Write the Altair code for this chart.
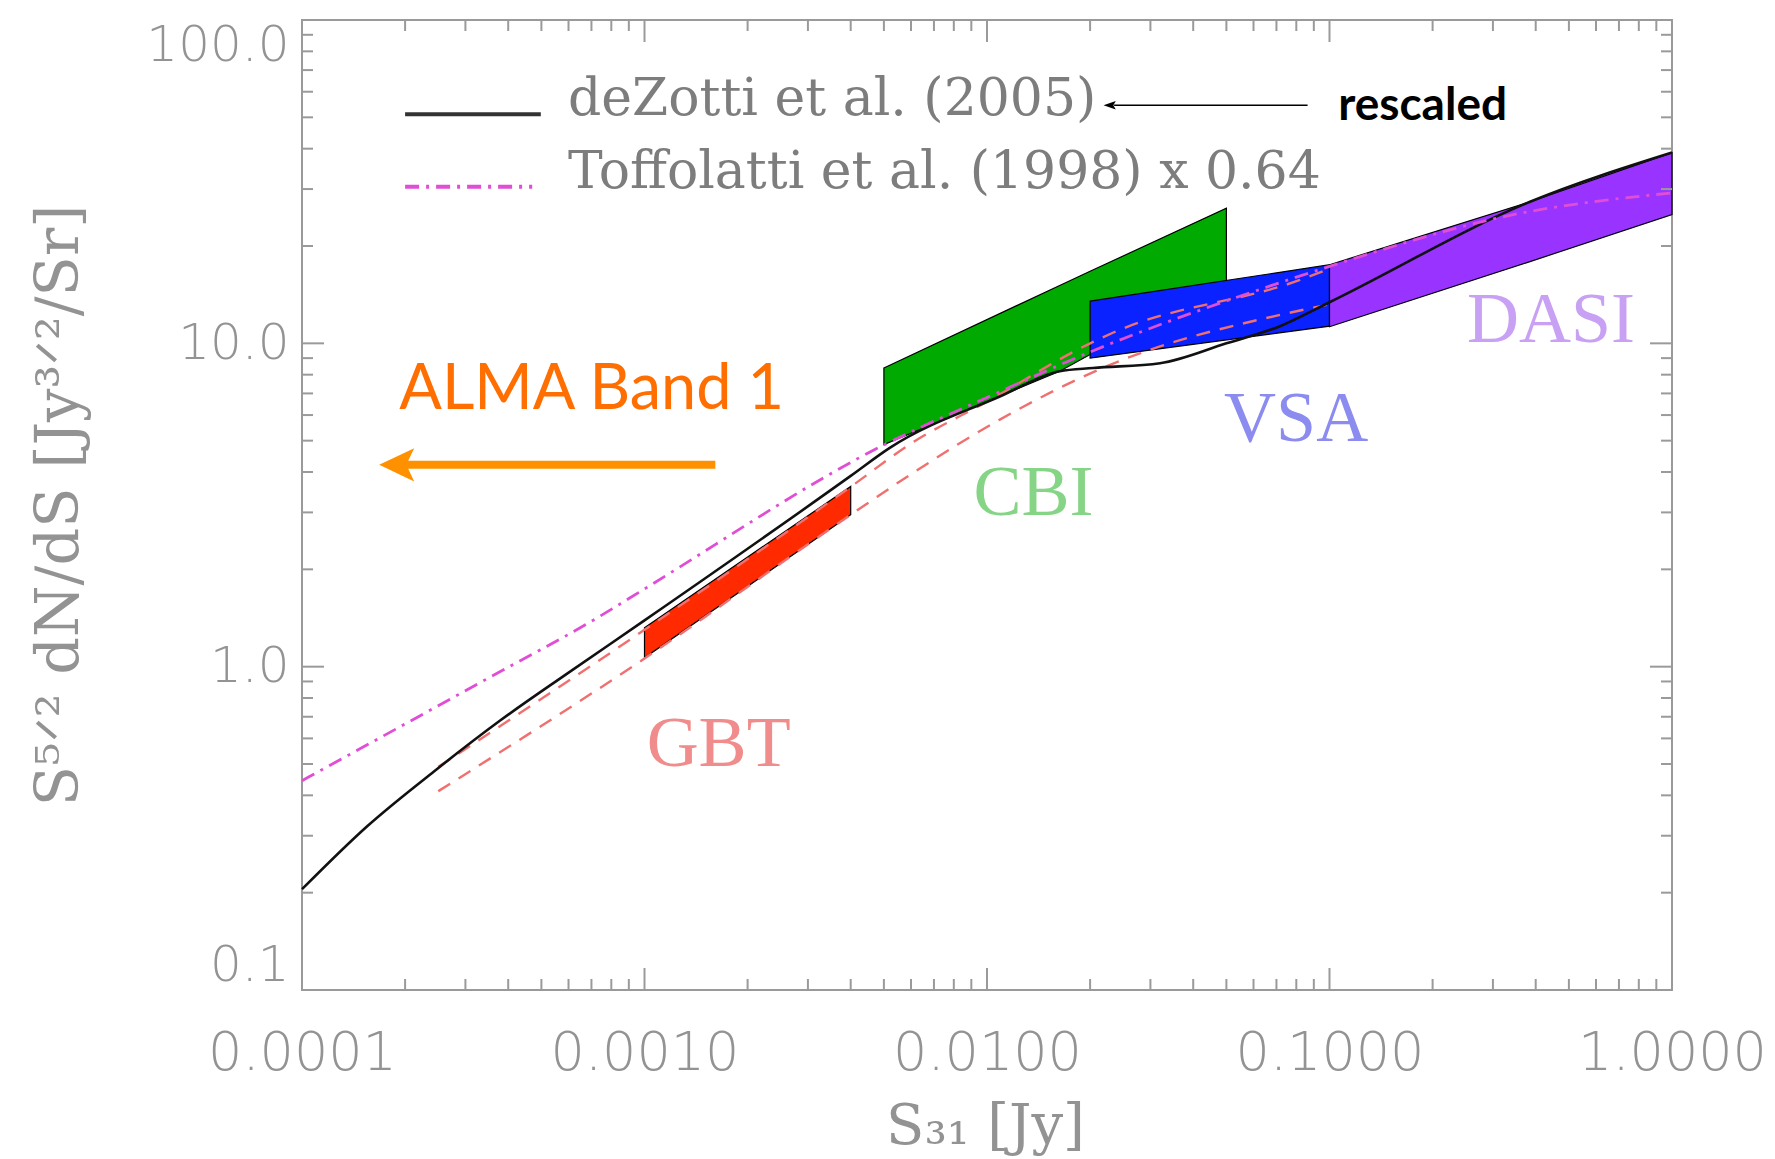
import altair as alt
import pandas as pd

W, H = 1370, 970

# ---- curves ----
dez_x = [1e-4, 1.55e-4, 2.47e-4, 3.78e-4, 5.93e-4, 0.001, 0.004, 0.0052, 0.0109,
         0.0163, 0.0204, 0.032, 0.05, 0.0717, 0.1, 0.385, 1.0]
dez_y = [0.205, 0.321, 0.481, 0.68, 0.95, 1.39, 3.89, 4.75, 6.85,
         8.2, 8.39, 8.68, 10.0, 11.3, 13.4, 27.4, 38.9]

tof_x = [1e-4, 3.3e-4, 7.4e-4, 0.001, 0.005, 0.01, 0.02, 0.0716, 0.1, 0.344, 1.0]
tof_y = [0.444, 0.891, 1.431, 1.74, 4.85, 6.8, 9.4, 15.4, 17.3, 25.0, 29.2]

gbt_up_x = [2.5e-4, 0.001, 0.004, 0.006, 0.01, 0.02, 0.0234, 0.082, 0.1]
gbt_up_y = [0.49, 1.30, 3.6, 4.9, 6.6, 10.0, 10.8, 15.7, 17.0]

gbt_lo_x = [2.5e-4, 0.001, 0.004, 0.00607, 0.0109, 0.0224, 0.0783, 0.1]
gbt_lo_y = [0.412, 1.06, 2.95, 3.97, 5.81, 8.5, 12.5, 13.2]

# ---- measured bands ----
gbt_x, gbt_top, gbt_bot = [0.001, 0.004], [1.32, 3.61], [1.065, 2.95]
cbi_x, cbi_top, cbi_bot = [0.005, 0.0163, 0.02, 0.05], [8.39, 15.1, 16.7, 26.2], [4.86, 8.2, 9.23, 14.5]
vsa_x, vsa_top, vsa_bot = [0.02, 0.1], [13.5, 17.5], [9.0, 11.3]
dasi_x, dasi_top, dasi_bot = [0.1, 0.385, 1.0], [17.5, 27.4, 38.9], [11.25, 17.9, 25.0]

# ---- labels ----
exp_labels = ["GBT", "CBI", "VSA", "DASI"]
exp_lx = [1.646e-3, 0.01366, 0.0799, 0.443]
exp_ly = [0.493, 2.95, 4.98, 10.13]
exp_colors = ["#f08c8c", "#86d486", "#8c8cf0", "#c8a0f4"]

legend_labels = ["deZotti et al. (2005)", "Toffolatti et al. (1998) x 0.64"]
legend_tx = [5.98e-4, 5.98e-4]
legend_ty = [50.8, 30.3]

x_label_values = [1e-4, 1e-3, 1e-2, 1e-1, 1.0]
y_label_values = [0.1, 1.0, 10.0, 100.0]
x_minor = [m * d for d in [1e-4, 1e-3, 1e-2, 1e-1] for m in range(2, 10)]
y_minor = [m * d for d in [0.1, 1.0, 10.0] for m in range(2, 10)]

GRAY = "#939393"

xs = alt.Scale(type="log", domain=[1e-4, 1.0], nice=False)
ys = alt.Scale(type="log", domain=[0.1, 100.0], nice=False)

x_axis = alt.Axis(values=x_label_values, format=".4f", grid=False, domain=False,
                  ticks=False, tickSize=0, labelFont="DejaVu Sans", labelFontSize=54,
                  labelFontWeight=200, labelLimit=500,
                  labelColor=GRAY, labelPadding=36, labelFlush=False, labelOverlap=False,
                  title="S₃₁  [Jy]", titleFont="DejaVu Serif", titleFontSize=56,
                  titleFontWeight="normal", titleColor=GRAY, titleX=683, titleY=136,
                  titleAlign="center", titleBaseline="middle")
y_axis = alt.Axis(values=y_label_values, format=".1f", grid=False, domain=False,
                  ticks=False, tickSize=0, labelFont="DejaVu Sans", labelFontSize=50,
                  labelFontWeight=200, labelLimit=500,
                  labelColor=GRAY, labelPadding=13, labelFlush=True, labelOverlap=False,
                  title="S⁵ᐟ²  dN/dS  [Jy³ᐟ²/Sr]", titleFont="DejaVu Serif",
                  titleFontSize=59, titleFontWeight="normal", titleColor=GRAY,
                  titleAngle=270, titleX=-243, titleY=485, titleAlign="center",
                  titleBaseline="middle")


def X():
    return alt.X("x:Q", scale=xs, axis=x_axis)


def Y():
    return alt.Y("y:Q", scale=ys, axis=y_axis)


def band(xv, top, bot, color):
    df = pd.DataFrame({"x": xv, "y": top, "y2": bot})
    return alt.Chart(df).mark_area(color=color, fillOpacity=1, stroke="black",
                                   strokeWidth=1.2).encode(x=X(), y=Y(), y2="y2:Q")


def curve(xv, yv, color, width, dash=None):
    df = pd.DataFrame({"x": xv, "y": yv})
    kw = dict(color=color, strokeWidth=width, interpolate="monotone")
    if dash:
        kw["strokeDash"] = dash
    return alt.Chart(df).mark_line(**kw).encode(x=X(), y=Y())


layers = []
layers.append(band(cbi_x, cbi_top, cbi_bot, "#00aa00"))
layers.append(band(gbt_x, gbt_top, gbt_bot, "#ff2a00"))
layers.append(band(vsa_x, vsa_top, vsa_bot, "#0a22ff"))
layers.append(band(dasi_x, dasi_top, dasi_bot, "#9933ff"))

layers.append(curve(gbt_lo_x, gbt_lo_y, "#f07070", 2.4, [14, 10]))
layers.append(curve(gbt_up_x, gbt_up_y, "#f07070", 2.4, [14, 10]))
layers.append(curve(dez_x, dez_y, "#111111", 2.6))
layers.append(curve(tof_x, tof_y, "#e04ed6", 2.8, [14, 7, 3, 7]))

# ---- frame ticks (inward) ----
TICK = "#9a9a9a"
for vals, ln in [(x_label_values, 22), (x_minor, 11)]:
    df = pd.DataFrame({"x": vals})
    layers.append(alt.Chart(df).mark_rule(color=TICK, strokeWidth=2).encode(
        x=X(), y=alt.value(H), y2=alt.value(H - ln)))
    layers.append(alt.Chart(df).mark_rule(color=TICK, strokeWidth=2).encode(
        x=X(), y=alt.value(0), y2=alt.value(ln)))
for vals, ln in [(y_label_values, 22), (y_minor, 11)]:
    df = pd.DataFrame({"y": vals})
    layers.append(alt.Chart(df).mark_rule(color=TICK, strokeWidth=2).encode(
        y=Y(), x=alt.value(0), x2=alt.value(ln)))
    layers.append(alt.Chart(df).mark_rule(color=TICK, strokeWidth=2).encode(
        y=Y(), x=alt.value(W), x2=alt.value(W - ln)))

# ---- legend ----
leg_line = pd.DataFrame({"x": [2.0e-4], "x2": [4.98e-4], "y": [51.1]})
layers.append(alt.Chart(leg_line).mark_rule(color="#333333", strokeWidth=4).encode(
    x=X(), x2="x2:Q", y=Y()))
leg_dd = pd.DataFrame({"x": [2.0e-4], "x2": [4.7e-4], "y": [30.5]})
layers.append(alt.Chart(leg_dd).mark_rule(color="#e04ed6", strokeWidth=4,
                                          strokeDash=[14, 7, 3, 7]).encode(
    x=X(), x2="x2:Q", y=Y()))
leg_txt = pd.DataFrame({"x": legend_tx, "y": legend_ty, "label": legend_labels})
layers.append(alt.Chart(leg_txt).mark_text(font="DejaVu Serif", fontSize=52, color="#7d7d7d",
                                           align="left", baseline="alphabetic").encode(
    x=X(), y=Y(), text="label:N"))

# ---- "rescaled" annotation ----
resc = pd.DataFrame({"x": [0.0863], "x2": [0.0235], "y": [54.5]})
layers.append(alt.Chart(resc).mark_rule(color="black", strokeWidth=1.5).encode(
    x=X(), x2="x2:Q", y=Y()))
resc_head = pd.DataFrame({"x": [0.02281], "y": [54.5]})
layers.append(alt.Chart(resc_head).mark_point(shape="M -1 0 L 1 -0.7 L 0.6 0 L 1 0.7 Z",
                                              filled=True, size=150, color="black",
                                              opacity=1, strokeWidth=0).encode(x=X(), y=Y()))
resc_txt = pd.DataFrame({"x": [0.106], "y": [49.2], "label": ["rescaled"]})
layers.append(alt.Chart(resc_txt).mark_text(font="Lato", fontSize=46, color="black",
                                            fontWeight="bold", align="left",
                                            baseline="alphabetic").encode(
    x=X(), y=Y(), text="label:N"))

# ---- ALMA Band 1 ----
alma_txt = pd.DataFrame({"x": [1.924e-4], "y": [6.25], "label": ["ALMA Band 1"]})
layers.append(alt.Chart(alma_txt).mark_text(font="Lato", fontSize=63, color="#ff6e00",
                                            align="left", baseline="alphabetic").encode(
    x=X(), y=Y(), text="label:N"))
alma_arrow = pd.DataFrame({"x": [1.61e-3], "x2": [2.0e-4], "y": [4.21]})
layers.append(alt.Chart(alma_arrow).mark_rule(color="#ff9100", strokeWidth=8).encode(
    x=X(), x2="x2:Q", y=Y()))
alma_head = pd.DataFrame({"x": [1.89e-4], "y": [4.21]})
layers.append(alt.Chart(alma_head).mark_point(shape="M -1 0 L 1 -0.95 L 0.55 0 L 1 0.95 Z",
                                              filled=True, size=1225, color="#ff9100",
                                              opacity=1, strokeWidth=0).encode(x=X(), y=Y()))

# ---- experiment labels ----
for lab, lx, ly, col in zip(exp_labels, exp_lx, exp_ly, exp_colors):
    df = pd.DataFrame({"x": [lx], "y": [ly], "label": [lab]})
    layers.append(alt.Chart(df).mark_text(font="Liberation Serif", fontSize=72, color=col,
                                          align="center", baseline="alphabetic").encode(
        x=X(), y=Y(), text="label:N"))

chart = alt.layer(*layers).properties(
    width=W, height=H,
    padding={"left": 302, "top": 20, "right": 103, "bottom": 169},
    autosize=alt.AutoSizeParams(type="none"),
    background="white",
).configure_view(stroke="#9a9a9a", strokeWidth=2)

chart.save("out.html", embed_options={"renderer": "svg", "actions": False})
